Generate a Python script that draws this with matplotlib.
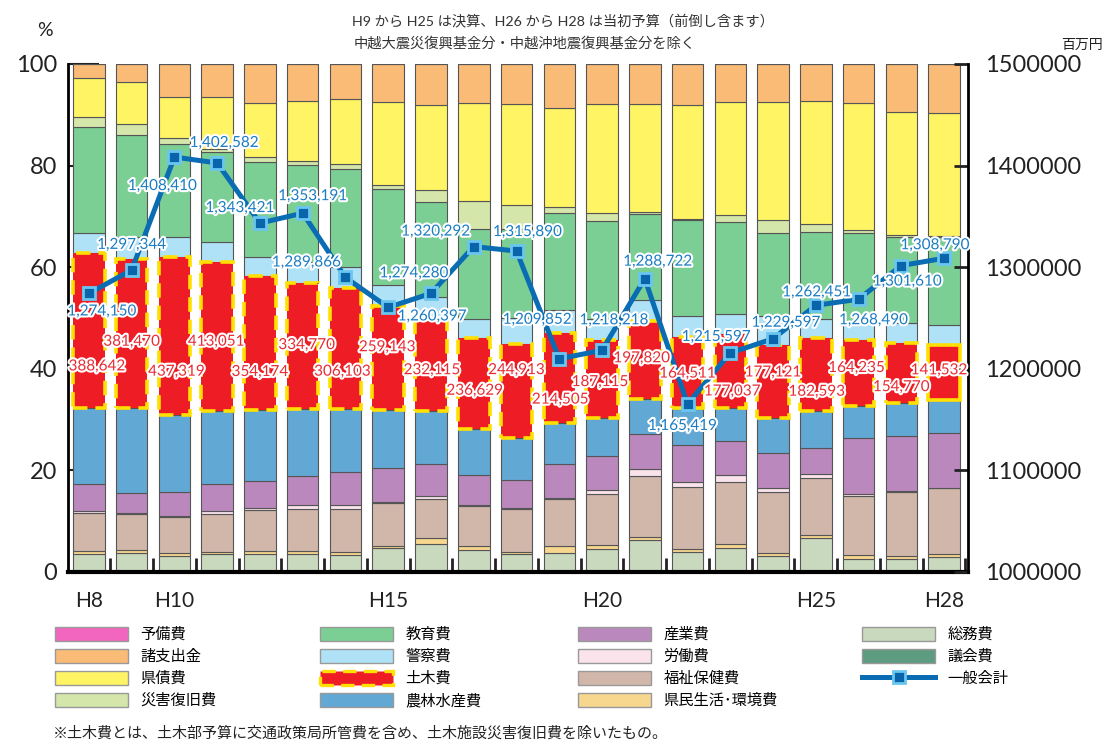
import numpy as np
import matplotlib
matplotlib.use('Agg')
import matplotlib.pyplot as plt
import matplotlib.patheffects as pe
from matplotlib.patches import Patch
from matplotlib.lines import Line2D

plt.rcParams['font.family'] = ['Lato', 'Noto Sans CJK JP', 'DejaVu Sans']

# 年度
years = ['H8', 'H9', 'H10', 'H11', 'H12', 'H13', 'H14', 'H15', 'H16', 'H17', 'H18',
         'H19', 'H20', 'H21', 'H22', 'H23', 'H24', 'H25', 'H26', 'H27', 'H28']
shown_years = ['H8', 'H10', 'H15', 'H20', 'H25', 'H28']

# 一般会計（百万円）
general = [1274150, 1297344, 1408410, 1402582, 1343421, 1353191, 1289866, 1260397,
           1274280, 1320292, 1315890, 1209852, 1218218, 1288722, 1165419, 1215597,
           1229597, 1262451, 1268490, 1301610, 1308790]
# 土木費（百万円）
doboku = [388642, 381470, 437319, 413051, 354174, 334770, 306103, 259143, 232115,
          236629, 244913, 214505, 187115, 197820, 164511, 177037, 177121, 182593,
          164235, 154770, 141532]

# 構成比（%）
gikai = [0.2, 0.2, 0.2, 0.2, 0.2, 0.2, 0.2, 0.2, 0.2, 0.2, 0.2,
         0.2, 0.2, 0.2, 0.2, 0.2, 0.2, 0.2, 0.2, 0.2, 0.2]
soumu = [3.3, 3.5, 2.9, 3.3, 3.3, 3.3, 3.2, 4.6, 5.3, 4.1, 3.3,
         3.5, 4.3, 6.1, 3.8, 4.6, 2.9, 6.4, 2.3, 2.3, 2.8]
kenmin = [0.7, 0.6, 0.7, 0.5, 0.6, 0.7, 0.5, 0.4, 1.1, 0.8, 0.5,
          1.4, 0.8, 0.5, 0.6, 0.8, 0.6, 0.6, 0.8, 0.6, 0.5]
fukushi = [7.5, 7.1, 7.0, 7.4, 8.1, 8.2, 8.6, 8.3, 7.7, 7.9, 8.4,
           9.3, 10.1, 12.1, 12.1, 12.2, 12.0, 11.4, 11.7, 12.7, 13.0]
roudou = [0.3, 0.3, 0.2, 0.6, 0.4, 0.8, 0.6, 0.3, 0.6, 0.2, 0.2,
          0.1, 0.7, 1.4, 1.1, 1.2, 0.9, 0.7, 0.4, 0.1, 0.1]
sangyo = [5.3, 3.8, 4.8, 5.3, 5.4, 5.7, 6.6, 6.6, 6.3, 5.8, 5.6,
          6.8, 6.7, 6.8, 7.2, 6.8, 6.8, 5.2, 11.0, 10.9, 10.7]
nourin = [15.0, 16.7, 15.2, 14.3, 13.9, 13.2, 12.4, 11.4, 10.4, 9.1, 8.1,
          8.1, 7.5, 6.9, 7.2, 6.4, 6.9, 7.1, 6.3, 6.4, 6.6]
keisatsu = [4.0, 4.3, 3.9, 3.9, 3.8, 4.2, 4.3, 4.1, 4.3, 3.7, 5.0,
            4.5, 4.2, 4.2, 4.1, 4.1, 5.6, 3.8, 3.4, 3.9, 3.9]
kyoiku = [20.7, 20.1, 18.3, 17.8, 18.7, 19.0, 19.2, 18.9, 18.7, 17.8, 17.6,
          19.1, 19.2, 17.0, 18.8, 18.1, 16.4, 17.1, 17.7, 17.0, 17.4]
saigai = [2.0, 2.1, 1.2, 0.5, 1.0, 0.9, 1.0, 0.8, 2.3, 5.5, 4.7,
          1.2, 1.6, 0.4, 0.3, 1.3, 2.5, 1.6, 0.5, 0.3, 0.1]
kensai = [7.8, 8.4, 8.0, 10.2, 10.6, 11.7, 12.8, 16.3, 16.8, 19.3, 19.9,
          19.4, 21.4, 21.2, 22.4, 22.3, 23.3, 24.1, 25.1, 24.3, 24.3]
shoshishutsu = [2.7, 3.5, 6.6, 6.6, 7.6, 7.4, 6.9, 7.5, 8.1, 7.7, 7.9,
                8.7, 7.9, 7.9, 8.1, 7.4, 7.5, 7.3, 7.7, 9.4, 9.6]
yobi = [0.0, 0.0, 0.0, 0.0, 0.0, 0.0, 0.0, 0.0, 0.0, 0.0, 0.0,
        0.0, 0.0, 0.0, 0.0, 0.0, 0.0, 0.0, 0.0, 0.0, 0.0]

# 土木費の構成比は金額から
doboku_pct = np.array(doboku) / np.array(general) * 100

RED = '#ee1d25'
DASH_YELLOW = '#ffe000'
LINE_BLUE = '#0a6cb3'

# 下から積み上げる順
stack = [
    ('議会費', gikai, '#5d9c80'),
    ('総務費', soumu, '#c9d9bd'),
    ('県民生活･環境費', kenmin, '#f7d68e'),
    ('福祉保健費', fukushi, '#d0b7aa'),
    ('労働費', roudou, '#fbe3ec'),
    ('産業費', sangyo, '#bb88bd'),
    ('農林水産費', nourin, '#62a8d4'),
    ('土木費', doboku_pct, RED),
    ('警察費', keisatsu, '#afe2f6'),
    ('教育費', kyoiku, '#7ccf94'),
    ('災害復旧費', saigai, '#d4e6a9'),
    ('県債費', kensai, '#fef464'),
    ('諸支出金', shoshishutsu, '#f9bb75'),
    ('予備費', yobi, '#f266bf'),
]
colors = {name: c for name, _, c in stack}

fig = plt.figure(figsize=(11.06, 7.42), dpi=100)
ax = fig.add_axes([68 / 1106, 1 - 572 / 742, 900 / 1106, 508 / 742])

x = np.arange(len(years))
bottom = np.zeros(len(years))
doboku_mid = None
for name, vals, col in stack:
    vals = np.asarray(vals, dtype=float)
    if name == '土木費':
        bars = ax.bar(x, vals, 0.737, bottom=bottom, color=col, edgecolor=DASH_YELLOW,
                      linewidth=2.6, linestyle=(0, (4, 2.2)), zorder=3)
        bars[-1].set_linestyle('-')
        doboku_mid = bottom + vals / 2
    else:
        ax.bar(x, vals, 0.737, bottom=bottom, color=col, edgecolor='#555555',
               linewidth=0.8, zorder=2)
    bottom = bottom + vals

ax.set_xlim(-0.49, 20.56)
ax.set_ylim(0, 100)
ax.set_yticks(range(0, 101, 20))
ax.tick_params(axis='y', direction='in', length=22, width=1.5, labelsize=17,
               pad=8, colors='#222222')
pos = [years.index(y) for y in shown_years]
ax.set_xticks(pos)
ax.set_xticklabels(shown_years)
ax.set_xticks(np.arange(0.5, 21, 1), minor=True)
ax.tick_params(axis='x', which='major', length=0, labelsize=15, pad=14, colors='#222222')
ax.tick_params(axis='x', which='minor', direction='in', length=10, width=2, color='#222222')
for s in ['top', 'right']:
    ax.spines[s].set_visible(False)
ax.spines['left'].set_linewidth(2)
ax.spines['bottom'].set_linewidth(3)

ax2 = ax.twinx()
ax2.set_ylim(1000000, 1500000)
ax2.set_yticks(range(1000000, 1500001, 100000))
ax2.set_yticklabels([str(v) for v in range(1000000, 1500001, 100000)])
ax2.tick_params(axis='y', direction='in', length=10, width=2, labelsize=17,
                pad=12, colors='#222222')
for s in ['top', 'left', 'bottom']:
    ax2.spines[s].set_visible(False)
ax2.spines['right'].set_linewidth(2)

ax2.plot(x, general, color=LINE_BLUE, lw=3.6, marker='s', ms=9,
         mfc='#0964aa', mec='#6ac6f0', mew=2, zorder=5)

outline = [pe.withStroke(linewidth=3, foreground='white')]

# 一般会計ラベルの位置（マーカーからのずれ, px）
gen_off = [(13, -18), (0, 25), (-12, -29), (7, 20), (-20, 15), (10, 17), (-39, 15),
           (44, -9), (-17, 20), (-38, 15), (11, 19), (-22, 39), (12, 30), (13, 17),
           (-5, -22), (-14, 16), (13, 16), (1, 13), (15, -21), (6, -16), (-9, 13)]
for i, v in enumerate(general):
    ax2.annotate(f'{v:,}', (x[i], v), xytext=gen_off[i], textcoords='offset pixels',
                 ha='center', va='center', fontsize=11, color='#1a7cc4',
                 path_effects=outline, zorder=6)

# 土木費ラベルの位置（赤い部分の中央からのずれ, px）
dob_off = [(8, -36), (0, -8), (2, -36), (-1, -5), (0, -29), (4, 1), (-3, -23),
           (-1, 11), (1, -5), (1, -7), (0, 21), (1, -22), (-2, -3), (-3, 2),
           (0, -1), (2, -20), (0, 9), (1, -17), (-2, 5), (0, -14), (-5, 2)]
for i, v in enumerate(doboku):
    ax2.annotate(f'{v:,}', (x[i], doboku_mid[i]), xycoords=ax.transData,
                 xytext=dob_off[i], textcoords='offset pixels',
                 ha='center', va='center', fontsize=11, color='#ea2a33',
                 path_effects=outline, zorder=6)

def fx(px):
    return px / 1106

def fy(py):
    return 1 - py / 742

fig.text(fx(352), fy(20), 'H9 から H25 は決算、H26 から H28 は当初予算（前倒し含ます）',
         fontsize=10.3, color='#333333', va='center', ha='left')
fig.text(fx(354), fy(43), '中越大震災復興基金分・中越沖地震復興基金分を除く',
         fontsize=10.3, color='#333333', va='center', ha='left')
fig.text(fx(45), fy(31), '%', fontsize=14, color='#222222', ha='center', va='center')
fig.text(fx(1103), fy(45), '百万円', fontsize=10, color='#222222', ha='right', va='center')
fig.text(fx(53), fy(733), '※土木費とは、土木部予算に交通政策局所管費を含め、土木施設災害復旧費を除いたもの。',
         fontsize=10.8, color='#222222', ha='left', va='center')

# 凡例（4列）
def box(name):
    if name == '土木費':
        return Patch(facecolor=RED, edgecolor=DASH_YELLOW, linewidth=2.4,
                     linestyle=(0, (4, 2.2)))
    return Patch(facecolor=colors[name], edgecolor='#999999', linewidth=1)

legend_cols = [
    ['予備費', '諸支出金', '県債費', '災害復旧費'],
    ['教育費', '警察費', '土木費', '農林水産費'],
    ['産業費', '労働費', '福祉保健費', '県民生活･環境費'],
    ['総務費', '議会費', '一般会計'],
]
col_x = [55, 320, 578, 862]
for names, cx in zip(legend_cols, col_x):
    handles = []
    for n in names:
        if n == '一般会計':
            handles.append(Line2D([], [], color=LINE_BLUE, lw=3.6, marker='s', ms=9,
                                  mfc='#0964aa', mec='#6ac6f0', mew=2))
        else:
            handles.append(box(n))
    fig.legend(handles, names, loc='upper left', bbox_to_anchor=(fx(cx), fy(627)),
               frameon=False, fontsize=11, handlelength=4.8, handleheight=1.0,
               handletextpad=0.8, labelspacing=0.45, borderpad=0, borderaxespad=0)

fig.savefig('out.png', dpi=100)
